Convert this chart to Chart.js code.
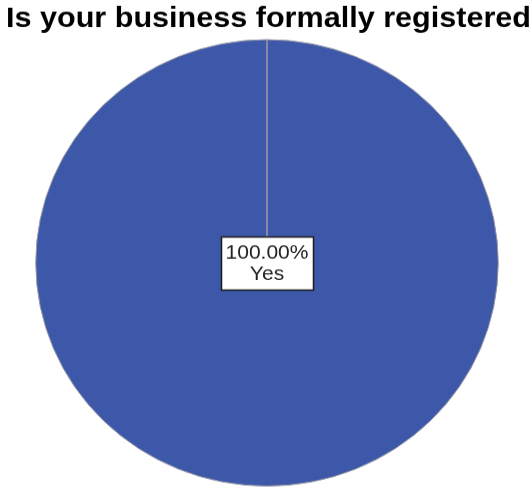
<!DOCTYPE html>
<html>
<head>
<meta charset="utf-8">
<script src="https://cdn.jsdelivr.net/npm/chart.js@4.4.1/dist/chart.umd.min.js"></script>
<style>
  html, body { margin: 0; padding: 0; background: #ffffff; overflow: hidden; }
  #wrap { width: 532px; height: 507px; transform: scaleY(0.9654); transform-origin: 0 0; }
</style>
</head>
<body>
<div id="wrap"><canvas id="c" width="532" height="507"></canvas></div>
<script>
const titleText = 'Is your business formally registered';
const categories = ['Yes'];
const percents = [100.00];
const sliceColors = ['#3e58a9'];

// Heading stretched to span the top of the canvas
const heading = {
  id: 'heading',
  afterDraw(chart) {
    const ctx = chart.ctx;
    const left = 6, right = 531;
    ctx.save();
    ctx.font = 'bold 30px "Liberation Sans", Arial, sans-serif';
    ctx.fillStyle = '#000000';
    ctx.textAlign = 'left';
    ctx.textBaseline = 'alphabetic';
    const natural = ctx.measureText(titleText).width;
    ctx.translate(left, 28);
    ctx.scale((right - left) / natural, 1);
    ctx.fillText(titleText, 0, 0);
    ctx.restore();
  }
};

// Boxed label in the middle of each slice: percentage on top, category below
const sliceLabels = {
  id: 'sliceLabels',
  afterDraw(chart) {
    const ctx = chart.ctx;
    const meta = chart.getDatasetMeta(0);
    meta.data.forEach((arc, i) => {
      const full = percents[i] >= 100;
      const pos = full ? { x: arc.x, y: arc.y } : arc.tooltipPosition();
      const lines = [percents[i].toFixed(2) + '%', categories[i]];
      ctx.save();
      ctx.font = '21px "Liberation Sans", Arial, sans-serif';
      const w = 92, h = 55;
      const x0 = Math.round(pos.x - w / 2) + 0.5;
      const y0 = Math.round(pos.y - h / 2) + 0.5;
      ctx.fillStyle = '#ffffff';
      ctx.fillRect(x0, y0, w, h);
      ctx.strokeStyle = '#1a1a1a';
      ctx.lineWidth = 1.5;
      ctx.strokeRect(x0, y0, w, h);
      ctx.fillStyle = '#222222';
      ctx.textAlign = 'center';
      ctx.textBaseline = 'middle';
      ctx.fillText(lines[0], pos.x, pos.y - 10.5);
      ctx.fillText(lines[1], pos.x, pos.y + 11.5);
      ctx.restore();
    });
  }
};

new Chart(document.getElementById('c'), {
  type: 'pie',
  data: {
    labels: categories,
    datasets: [{
      data: percents,
      backgroundColor: sliceColors,
      borderColor: '#9a9aa6',
      borderWidth: 1
    }]
  },
  options: {
    responsive: false,
    animation: false,
    layout: { padding: { left: 35, right: 33, top: 40.5, bottom: 3 } },
    plugins: {
      legend: { display: false },
      tooltip: { enabled: false },
      title: { display: false }
    }
  },
  plugins: [heading, sliceLabels]
});
</script>
</body>
</html>
